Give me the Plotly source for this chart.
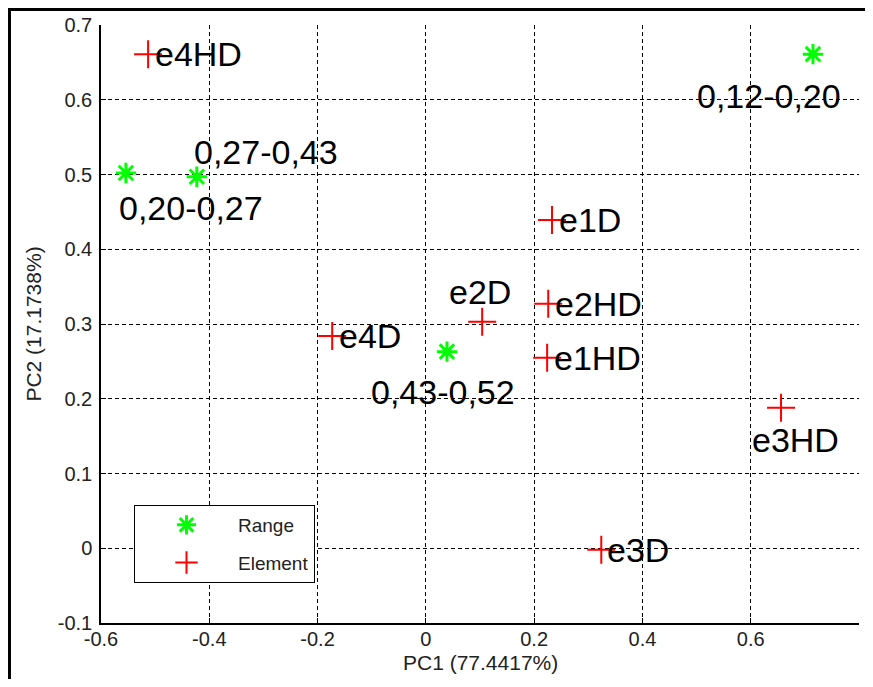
import plotly.graph_objects as go

# ---- data ----
range_labels = ["0,12-0,20", "0,20-0,27", "0,27-0,43", "0,43-0,52"]
range_pc1 = [0.715, -0.554, -0.423, 0.039]
range_pc2 = [0.661, 0.502, 0.497, 0.263]

element_labels = ["e4HD", "e1D", "e2HD", "e2D", "e4D", "e1HD", "e3HD", "e3D"]
element_pc1 = [-0.513, 0.233, 0.226, 0.104, -0.173, 0.224, 0.656, 0.324]
element_pc2 = [0.661, 0.439, 0.327, 0.303, 0.284, 0.255, 0.188, -0.002]

x_ticks = [-0.6, -0.4, -0.2, 0, 0.2, 0.4, 0.6, 0.8]
y_ticks = [-0.1, 0, 0.1, 0.2, 0.3, 0.4, 0.5, 0.6, 0.7]

# label placement: (anchor, pixel shift x, pixel shift y)
range_place = [("center", -44, -42), ("center", 65, -35), ("center", 69, 25), ("center", -4, -40)]
element_place = [("left", 6, 0), ("left", 6, 0), ("left", 6, 0), ("center", -2, 30),
                 ("left", 6, 0), ("left", 6, 0), ("center", 14, -32), ("left", 5, 0)]

FONT = "Liberation Sans, Arial, sans-serif"
LABEL_FONT = dict(family=FONT, size=34, color="black")

fig = go.Figure()
fig.add_trace(go.Scatter(
    x=range_pc1, y=range_pc2, mode="markers", name="Range", legendgroup="a",
    marker=dict(symbol="asterisk-open", size=17, color="#00ff00",
                line=dict(color="#00ff00", width=3)),
))
fig.add_trace(go.Scatter(
    x=element_pc1, y=element_pc2, mode="markers", name="Element", legendgroup="b",
    marker=dict(symbol="cross-thin-open", size=20, color="#ff0000",
                line=dict(color="#ff0000", width=2)),
))

annotations = []
for labs, xs, ys, places in ((range_labels, range_pc1, range_pc2, range_place),
                             (element_labels, element_pc1, element_pc2, element_place)):
    for lab, x, y, (anc, dx, dy) in zip(labs, xs, ys, places):
        annotations.append(dict(x=x, y=y, xref="x", yref="y", text=lab, showarrow=False,
                                xanchor=anc, yanchor="middle", xshift=dx, yshift=dy,
                                borderpad=0, font=LABEL_FONT))

# x-axis title (placed as an annotation so it can sit close to the tick labels)
annotations.append(dict(x=0.5, y=0, xref="paper", yref="paper", text="PC1 (77.4417%)",
                        showarrow=False, xanchor="center", yanchor="middle", yshift=-39,
                        font=dict(family=FONT, size=21, color="#222")))

axis_common = dict(
    showgrid=True, gridcolor="black", gridwidth=1, griddash="4px,3px",
    zeroline=False, showline=True, linecolor="black", linewidth=1.5,
    ticks="inside", ticklen=5, tickcolor="black",
    tickfont=dict(family=FONT, size=20, color="#222"),
    mirror=False,
)

# page has an 8px body margin; keep the figure inside the 873x687 window
W, H = 857, 671
ML, MR, MT, MB = 93, 6, 17, 56
PW, PH = W - ML - MR, H - MT - MB

fig.update_layout(
    width=W, height=H,
    margin=dict(l=ML, r=MR, t=MT, b=MB),
    paper_bgcolor="white", plot_bgcolor="white",
    xaxis=dict(range=[-0.6, 0.8], tickvals=x_ticks, ticktext=[f"{v:g}" for v in x_ticks],
               ticklabelstandoff=-3,
               **axis_common),
    yaxis=dict(range=[-0.1, 0.7], tickvals=y_ticks, ticktext=[f"{v:g}" for v in y_ticks],
               ticklabelstandoff=3,
               title=dict(text="PC2 (17.1738%)", font=dict(family=FONT, size=21, color="#222"), standoff=10),
               **axis_common),
    legend=dict(x=(134 - 101) / PW, y=1 - (505 - 25) / PH, xanchor="left", yanchor="top",
                bgcolor="white", bordercolor="black", borderwidth=1,
                font=dict(family=FONT, size=19, color="#222"),
                traceorder="grouped", tracegroupgap=10, itemwidth=93),
    annotations=annotations,
    shapes=[dict(type="rect", xref="paper", yref="paper",
                 x0=(1.5 - ML) / PW, x1=1.2, y0=-0.3, y1=1 + (MT - 1.5) / PH,
                 line=dict(color="black", width=3), layer="above")],
    showlegend=True,
)

fig.write_html("out.html")
